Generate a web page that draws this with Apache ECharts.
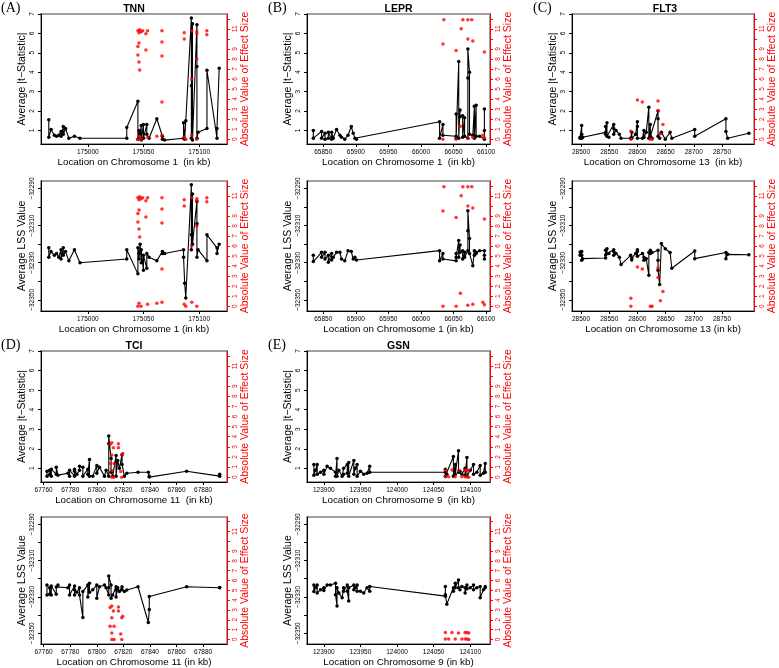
<!DOCTYPE html>
<html><head><meta charset="utf-8">
<script src="https://cdn.jsdelivr.net/npm/echarts@6/dist/echarts.min.js"></script>
<style>html,body{margin:0;padding:0;background:#fff}#c{width:779px;height:668px}</style>
</head><body><div id="c"></div>
<script>
// ---------- DATA ----------
// (A) TNN, chromosome 1
const tnnLoc = [174965,174965,174967,174970,174972,174974,174976,174976,174978,174978,174980,174983,174988,174993,175035,175035,175045,175045,175046,175046,175047,175048,175048,175050,175050,175053,175053,175055,175062,175067,175067,175069,175086,175086,175087,175088,175093,175093,175093,175094,175094,175098,175098,175098,175099,175107,175107,175116,175116,175118];
const tnnT = [1.55,0.65,1.05,0.75,0.7,0.75,0.95,0.7,1.2,0.8,1.1,0.6,0.7,0.6,0.6,1.15,2.5,0.55,1.0,0.6,0.8,1.25,0.5,1.3,0.6,1.3,0.8,0.6,1.6,0.7,0.55,0.5,0.6,1.4,0.55,1.5,6.8,3.3,0.6,6.5,0.5,6.45,4.3,0.6,0.9,1.1,4.1,0.6,1.1,4.2];
const tnnLss = [-32322,-32327,-32324,-32326,-32325,-32327,-32323,-32328,-32322,-32326,-32324,-32329,-32323,-32330,-32328,-32323,-32336,-32322,-32325,-32328,-32320,-32330,-32323,-32334,-32326,-32333,-32325,-32327,-32329,-32324,-32325,-32325,-32323,-32327,-32341,-32349,-32288,-32315,-32323,-32293,-32320,-32297,-32309,-32327,-32323,-32329,-32315,-32322,-32325,-32320];
const tnnEffLoc = [175045,175045,175045,175045,175046,175046,175046,175046,175046.6,175046.6,175047.8,175047.8,175049.3,175052.2,175052.2,175053.7,175053.7,175062,175066.6,175066.6,175066.6,175066.6,175066.6,175086.6,175086.6,175086.6,175088,175093.4,175093.4,175093.4,175097.9,175097.9,175097.9,175097.9,175106.9,175106.9];
const tnnEff = [10.8,9.25,8.4,0,10.6,9.6,7.7,0.3,10.9,6.9,10.7,0,10.8,10.5,8.9,10.8,0.2,0.3,10.8,9.7,8.3,3.7,0.4,10.6,10.0,0.2,0,10.8,6.0,0.4,10.7,10.5,8.0,0,10.8,10.4];
const tnnTicks = [175000,175050,175100];

// (B) LEPR, chromosome 1
const leprLoc = [65834.7,65834.7,65847.4,65847.4,65852.6,65852.6,65857.7,65857.7,65862.8,65862.8,65865.3,65870.4,65875.5,65878,65883,65888,65893,65896,65898.5,65901,66028.6,66028.6,66033.7,66033.7,66054,66054,66054,66058,66058,66060,66060,66064,66064,66067,66067,66072,66072,66072,66074.5,66074.5,66079.6,66082,66082,66084.7,66084.7,66090,66097.4,66097.4,66097.4];
const leprT = [1.0,0.6,0.95,0.6,0.85,0.55,0.6,0.9,0.55,0.9,0.6,1.05,0.75,0.65,0.55,0.75,1.2,0.85,0.6,0.55,1.45,0.6,1.3,0.75,0.7,1.85,0.6,4.55,0.6,2.05,1.7,1.75,0.65,1.65,0.7,0.6,3.7,5.2,4.0,0.8,0.75,2.25,0.6,2.3,0.7,0.7,0.55,2.1,1.0];
const leprLss = [-32326,-32329.4,-32324.4,-32327,-32324.4,-32328,-32326,-32329.8,-32325,-32328.5,-32327,-32324.4,-32324.4,-32328,-32329,-32323.5,-32324,-32328,-32327,-32328.5,-32323.5,-32329,-32325,-32328,-32329,-32325,-32327,-32318,-32327,-32320.5,-32324.4,-32323.5,-32328,-32324.4,-32327,-32323.5,-32312.8,-32302,-32317,-32325,-32331.6,-32323.5,-32326,-32324.4,-32325,-32323.5,-32323.5,-32328,-32326];
const leprEffLoc = [66033.7,66035.2,66033.7,66054,66054,66060.5,66061.7,66064.3,66072,66072,66072,66078,66079.6,66079.6,66095,66097.4,66097.4];
const leprEff = [9.5,11.9,0,8.85,0,1.3,11.0,11.9,11.9,10.0,0.1,11.9,9.8,0.2,0.4,8.7,0.15];
const leprTicks = [65850,65900,65950,66000,66050,66100];

// (C) FLT3, chromosome 13
const flt3Loc = [28498.3,28498.3,28501.2,28501.2,28501.2,28502.9,28543.6,28543.6,28543.6,28546,28546,28549.4,28558,28558,28558,28562,28568,28571,28588,28590,28590,28597,28600,28600,28600,28609,28611.6,28611.6,28615.7,28620.3,28620.3,28623,28623,28626,28636.6,28636.6,28636.6,28639.5,28642.5,28649.4,28658,28661,28701.7,28701.7,28757,28757,28760,28797.7];
const flt3T = [0.6,0.65,1.25,0.6,0.8,0.65,0.9,1.2,0.8,1.4,0.7,0.65,1.3,1.1,0.8,1.0,0.8,0.6,0.6,0.9,0.6,0.8,1.45,1.2,0.6,0.6,1.0,0.65,0.9,2.2,0.6,1.3,0.7,0.6,2.0,1.6,0.7,0.6,0.9,0.55,0.9,0.6,1.05,0.7,1.6,0.95,0.6,0.85];
const flt3Lss = [-32324.2,-32326,-32324,-32328.7,-32326,-32327.8,-32327.5,-32323.3,-32325.9,-32322.5,-32325,-32325,-32323,-32324,-32326,-32325,-32327,-32331,-32326,-32327.5,-32328.5,-32325,-32323,-32324,-32326.5,-32325,-32327,-32328.7,-32327.8,-32336.8,-32324.5,-32323.3,-32325,-32324.5,-32323.3,-32328.7,-32334,-32341.7,-32319.7,-32322.5,-32324.5,-32333,-32323.7,-32327.8,-32324.5,-32327.8,-32325.5,-32325.7];
const flt3EffLoc = [28588.4,28588.4,28600,28608.7,28623,28626,28636.6,28636.6,28640.7,28645.3];
const flt3Eff = [0.8,0,3.9,3.7,0,0,3.8,2.85,0.55,1.47];
const flt3Ticks = [28500,28550,28600,28650,28700,28750];

// (D) TCI, chromosome 11
const tciLoc = [67762.5,67762.5,67764.5,67764.5,67765.75,67765.75,67769.5,67769.5,67770.75,67778.25,67779.5,67779.5,67783.25,67783.25,67783.25,67785,67787,67787,67789.5,67789.5,67793.25,67793.25,67794.5,67794.5,67797,67800,67800,67802,67805.75,67807,67809,67809,67809,67810.75,67810.75,67812,67814.5,67814.5,67814.5,67815.75,67817,67819,67819,67820.75,67822.6,67831,67838.8,67839.5,67839.5,67867.6,67892.5,67892.5];
const tciT = [0.85,0.6,0.7,0.9,0.6,0.95,0.7,1.05,0.65,0.75,0.6,0.9,0.6,0.85,0.95,0.7,0.9,1.1,1.05,0.6,0.95,0.7,1.45,0.6,0.6,1.15,0.75,1.05,0.6,0.9,0.6,2.25,2.65,1.5,0.8,0.6,1.65,1.3,0.6,1.4,1.0,1.7,1.2,0.6,0.75,0.8,0.8,0.55,0.6,0.85,0.6,0.7];
const tciLss = [-32323.5,-32329,-32328.5,-32325,-32329,-32324,-32328.5,-32324.5,-32323.5,-32325,-32323.5,-32329,-32324,-32329,-32326,-32327.5,-32325,-32329,-32341.4,-32327,-32323.5,-32330,-32322.5,-32327.5,-32326,-32323.5,-32330.7,-32324.4,-32323.5,-32325,-32329,-32325,-32318.5,-32323.5,-32330.7,-32329,-32324.4,-32326,-32330,-32325,-32327,-32324.4,-32326,-32327,-32326.2,-32324.4,-32344.1,-32337,-32329.8,-32324.4,-32325,-32324.8];
const tciEffLoc = [67810,67811.3,67816.3,67812.5,67816.3,67811.3,67818.8,67819.5,67810,67813,67811.3,67818,67811.3,67813,67818.8];
const tciEff = [3.25,3.4,3.3,2.9,2.9,2.2,2.2,2.35,1.35,1.35,0.65,0.55,0,0,0];
const tciTicks = [67760,67780,67800,67820,67840,67860,67880];

// (E) GSN, chromosome 9
const gsnLoc = [123886.4,123886.4,123888.6,123890.9,123890.9,123895.5,123900,123900,123904.5,123909,123916,123916,123918,123918,123920.5,123925,123927,123927,123932,123932,123934,123934,123941,123941,123943,123945.5,123945.5,123950,123954.5,123959,123962.7,123962.7,124066,124066,124066,124068,124077,124077,124079.5,124079.5,124084,124084,124086,124088.6,124093,124093,124095.5,124095.5,124100,124104.5,124104.5,124109,124113.6,124113.6,124118,124120.5,124120.5];
const gsnT = [1.2,0.65,0.9,1.2,0.7,0.8,0.9,0.7,1.1,1.0,0.8,0.6,1.5,0.6,0.9,0.6,0.7,1.0,1.2,0.75,1.3,0.6,1.4,0.7,1.0,1.2,0.6,0.85,0.7,0.75,1.1,0.8,0.8,0.95,0.6,0.7,1.6,0.6,1.2,0.7,1.9,0.8,0.85,0.7,1.0,0.65,1.55,0.6,0.9,1.2,0.7,0.8,1.15,0.65,0.75,1.25,0.8];
const gsnLss = [-32323.4,-32327,-32325,-32323.4,-32327.9,-32326,-32325,-32326.5,-32323.4,-32323.4,-32322.5,-32328.8,-32335,-32325,-32327.9,-32330.5,-32325,-32326.9,-32323.4,-32326.9,-32332.3,-32325,-32323.4,-32326,-32325,-32323.4,-32326.9,-32326.9,-32327.9,-32325,-32326.9,-32324.3,-32329.6,-32324.3,-32328.8,-32334,-32325,-32326.9,-32322.5,-32325,-32320.7,-32325,-32326,-32324.3,-32325,-32327.9,-32323.4,-32325.5,-32325,-32323.4,-32326,-32325,-32324.3,-32330.5,-32326,-32324.3,-32325];
const gsnEffLoc = [124066,124066,124070.5,124075,124079.5,124084,124088.6,124093,124093,124095.5,124095.5,124098,124098];
const gsnEff = [0.7,0.05,0.05,0.7,0.05,0.65,0.05,0.7,0.05,0.7,0.05,0.65,0];
const gsnTicks = [123900,123950,124000,124050,124100];

// y-axis ticks / labels
const tTicks = [1,2,3,4,5,6,7];
const lssTicks = [-32350,-32340,-32330,-32320,-32310,-32300,-32290];
const lssLabels = [-32350,-32330,-32310,-32290];
const effTicks = [0,1,2,3,4,5,6,7,8,9,10,11,12];
const effLabels = [0,1,2,3,4,5,6,7,8,9,11];

// ---------- CHART ----------
const genes = [
  {title:'TNN', tag:'(A)', chr:'1', loc:tnnLoc, t:tnnT, lss:tnnLss, effLoc:tnnEffLoc, eff:tnnEff, xr:[174958,175125], xt:tnnTicks, col:0, band:0},
  {title:'LEPR', tag:'(B)', chr:'1', loc:leprLoc, t:leprT, lss:leprLss, effLoc:leprEffLoc, eff:leprEff, xr:[65825,66106], xt:leprTicks, col:1, band:0},
  {title:'FLT3', tag:'(C)', chr:'13', loc:flt3Loc, t:flt3T, lss:flt3Lss, effLoc:flt3EffLoc, eff:flt3Eff, xr:[28484,28807], xt:flt3Ticks, col:2, band:0},
  {title:'TCI', tag:'(D)', chr:'11', loc:tciLoc, t:tciT, lss:tciLss, effLoc:tciEffLoc, eff:tciEff, xr:[67758,67898], xt:tciTicks, col:0, band:1},
  {title:'GSN', tag:'(E)', chr:'9', loc:gsnLoc, t:gsnT, lss:gsnLss, effLoc:gsnEffLoc, eff:gsnEff, xr:[123877,124127], xt:gsnTicks, col:1, band:1}
];
const FONT = '"Liberation Sans", Arial, Helvetica, sans-serif';
const cols = [[41,186],[307,183],[572,186]];
const rows = [[14,130],[181,130],[351,131],[517,131]];
const zip = (a,b) => a.map((v,i)=>[v,b[i]]);
const minus = v => String(v).replace('-', '\u2212');

const option = {animation:false, backgroundColor:'#fff', grid:[], xAxis:[], yAxis:[], series:[], graphic:[]};

genes.forEach(g => {
  const [left,width] = cols[g.col];
  const titleY = rows[g.band*2][0] - 6;
  option.graphic.push({type:'text', style:{x: left - 40 + (g.col===0?0:1), y: titleY, text:g.tag, font:'14px "Liberation Serif", "DejaVu Serif", serif', fill:'#000', textAlign:'left', textVerticalAlign:'middle'}});
  option.graphic.push({type:'text', style:{x: left + width/2, y: titleY + 1, text:g.title, font:'bold 10.5px ' + FONT, fill:'#000', textAlign:'center', textVerticalAlign:'middle'}});
  [0,1].forEach(k => {
    const gi = option.grid.length;
    const [top,height] = rows[g.band*2 + k];
    option.grid.push({left, top, width, height, show:true, borderColor:'#808080', borderWidth:1.5, backgroundColor:'rgba(0,0,0,0)'});
    option.xAxis.push({
      gridIndex:gi, type:'value', min:g.xr[0], max:g.xr[1],
      axisLine:{show:true, onZero:false, lineStyle:{color:'#000', width:1}},
      axisTick:{show:true, length:3, customValues:g.xt, lineStyle:{color:'#000'}},
      axisLabel:{customValues:g.xt, formatter:v=>String(v), fontSize:6.5, color:'#000', margin:5, fontFamily:FONT},
      splitLine:{show:false},
      name: 'Location on Chromosome ' + g.chr + (k===0 ? '  (in kb)' : ' (in kb)'),
      nameLocation:'middle', nameGap:8.5, nameTextStyle:{fontSize:9.8, color:'#000', fontFamily:FONT}
    });
    const isT = k===0;
    option.yAxis.push({
      gridIndex:gi, type:'value', position:'left',
      min: isT ? 0.3 : -32356, max: isT ? 7.0 : -32286,
      axisLine:{show:true, onZero:false, lineStyle:{color:'#000', width:1}},
      axisTick:{show:true, length:3, customValues: isT ? tTicks : lssTicks, lineStyle:{color:'#000'}},
      axisLabel:{customValues: isT ? tTicks : lssLabels, formatter:minus, rotate:90, fontSize:6.5, color:'#000', margin:5, fontFamily:FONT},
      splitLine:{show:false},
      name: isT ? 'Average |t\u2212Statistic|' : 'Average LSS Value',
      nameLocation:'middle', nameGap:12.5, nameTextStyle:{fontSize:10.5, color:'#000', fontFamily:FONT}
    });
    option.yAxis.push({
      gridIndex:gi, type:'value', position:'right', min:-0.48, max:12.48, alignTicks:false,
      axisLine:{show:true, onZero:false, lineStyle:{color:'#ff0000', width:1}},
      axisTick:{show:true, length:3, customValues:effTicks, lineStyle:{color:'#ff0000'}},
      axisLabel:{customValues:effLabels, rotate:90, fontSize:6.5, color:'#ff0000', margin:5, fontFamily:FONT},
      splitLine:{show:false},
      name:'Absolute Value of Effect Size',
      nameLocation:'middle', nameGap:11.5, nameTextStyle:{fontSize:10.5, color:'#ff0000', fontFamily:FONT}
    });
    option.series.push({
      type:'line', xAxisIndex:gi, yAxisIndex:gi*2, data: zip(g.loc, isT ? g.t : g.lss),
      symbol:'circle', symbolSize:3.5, showSymbol:true, showAllSymbol:true,
      lineStyle:{color:'#000', width:1.1}, itemStyle:{color:'#000'}, z:2, silent:true
    });
    option.series.push({
      type:'scatter', xAxisIndex:gi, yAxisIndex:gi*2+1, data: zip(g.effLoc, g.eff),
      symbol:'circle', symbolSize:3.5, itemStyle:{color:'#ff0000'}, z:3, silent:true
    });
  });
});

const chart = echarts.init(document.getElementById('c'), null, {renderer:'canvas'});
chart.setOption(option);
</script>
</body></html>
